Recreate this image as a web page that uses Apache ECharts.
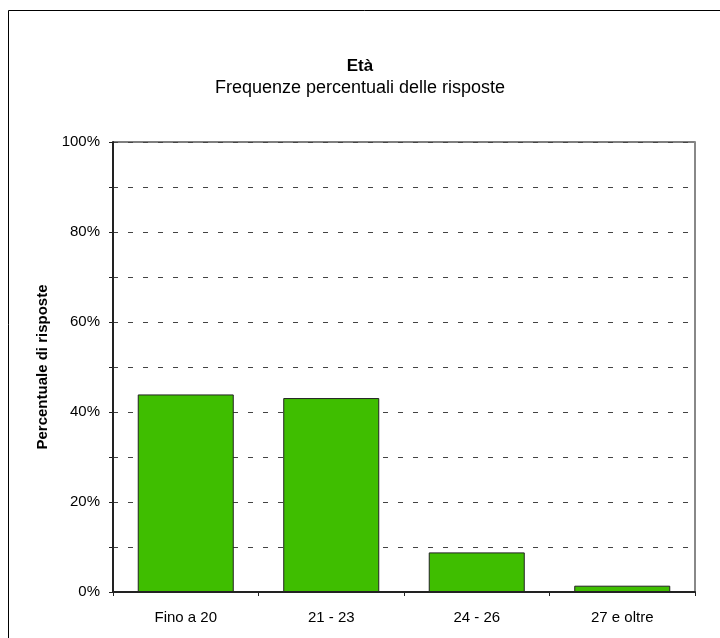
<!DOCTYPE html>
<html>
<head>
<meta charset="utf-8">
<script src="https://cdn.jsdelivr.net/npm/echarts@6/dist/echarts.min.js"></script>
<style>
	html, body {margin: 0; padding: 0; background: #fff;}
	#chart {width: 720px; height: 638px;}
</style>
</head>
<body>
<div id="chart"></div>
<script>
var categories = ['Fino a 20', '21 - 23', '24 - 26', '27 e oltre'];
var percentuali = [43.9, 43.1, 8.8, 1.4];
var yMin = 0;
var yMax = 100;
var yStep = 10;
var labelStep = 20;

var myChart = echarts.init(document.getElementById('chart'));
var font = 'Liberation Sans, Arial, sans-serif';
var option = {
	backgroundColor: '#fff',
	animation: false,
	title: [
		{
			text: 'Età',
			left: 'center',
			top: 58,
			padding: 0,
			textStyle: {fontFamily: font, fontSize: 17, fontWeight: 'bold', color: '#000'}
		},
		{
			text: 'Frequenze percentuali delle risposte',
			left: 'center',
			top: 79,
			padding: 0,
			textStyle: {fontFamily: font, fontSize: 18, fontWeight: 'normal', color: '#000'}
		}
	],
	// cornice esterna (esce dal bordo destro e inferiore)
	graphic: [
		{
			type: 'rect',
			silent: true,
			shape: {x: 8.5, y: 10.5, width: 800, height: 700},
			style: {fill: 'none', stroke: '#000', lineWidth: 1}
		}
	],
	grid: {
		left: 113,
		right: 25,
		top: 142,
		bottom: 46,
		show: true,
		borderColor: '#000',
		borderWidth: 1,
		backgroundColor: 'transparent'
	},
	xAxis: {
		type: 'category',
		data: categories,
		axisLine: {lineStyle: {color: '#222', width: 2}},
		axisTick: {show: true, alignWithLabel: false, length: 4, lineStyle: {color: '#222'}},
		axisLabel: {margin: 18, fontFamily: font, fontSize: 15, color: '#000'},
		splitLine: {show: false}
	},
	yAxis: [
		{
			type: 'value',
			min: yMin,
			max: yMax,
			interval: yStep,
			name: 'Percentuale di risposte',
			nameLocation: 'middle',
			nameRotate: 90,
			nameGap: 61,
			nameTextStyle: {fontFamily: font, fontSize: 15, fontWeight: 'bold', color: '#000'},
			axisLine: {show: true, lineStyle: {color: '#222', width: 2}},
			axisTick: {show: true, length: 4, lineStyle: {color: '#222'}},
			axisLabel: {
				margin: 13,
				fontFamily: font,
				fontSize: 15,
				color: '#000',
				formatter: function (v) {
					return v % labelStep === 0 ? v + '%' : '';
				}
			},
			splitLine: {show: true, lineStyle: {color: '#444', width: 1, type: [5, 10]}}
		},
		{
			type: 'value',
			min: yMin,
			max: yMax,
			interval: yStep,
			position: 'right',
			axisLine: {show: true, lineStyle: {color: '#888', width: 2}},
			axisTick: {show: false},
			axisLabel: {show: false},
			splitLine: {show: false}
		}
	],
	series: [
		{
			type: 'bar',
			data: percentuali,
			barCategoryGap: '34%',
			itemStyle: {color: '#3fbe00', borderColor: '#222', borderWidth: 1}
		}
	]
};
myChart.setOption(option);
</script>
</body>
</html>
